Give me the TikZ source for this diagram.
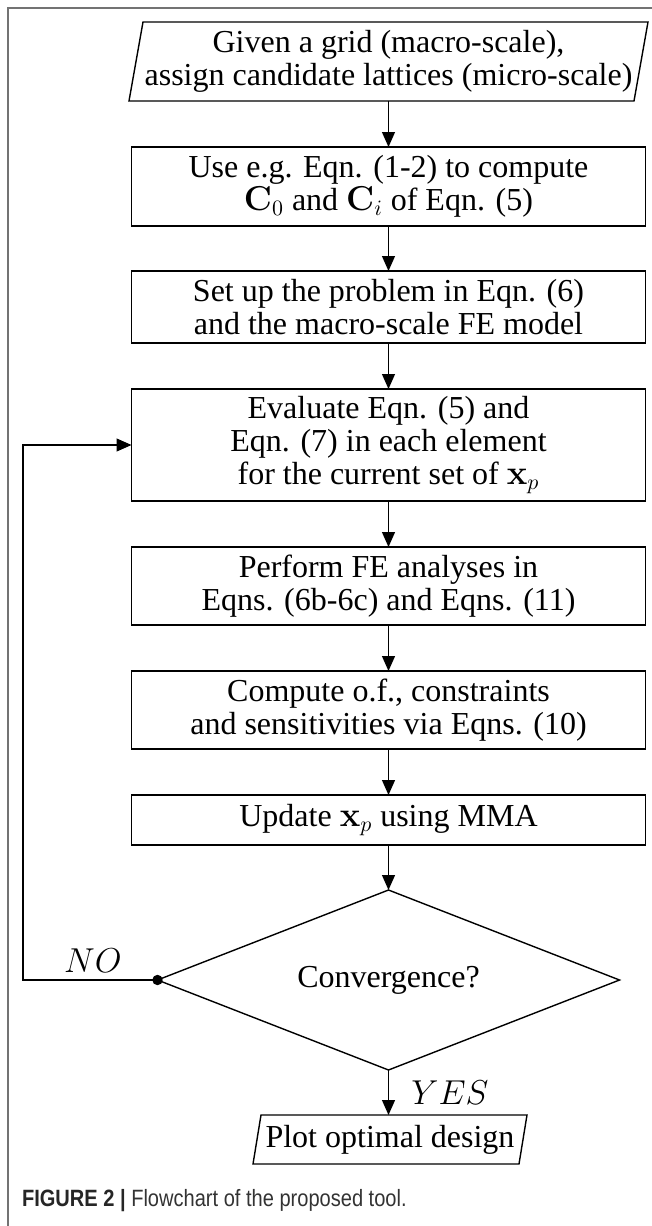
\documentclass[tikz,border=0pt]{standalone}
\usepackage[no-math]{fontspec}
\setmainfont{Liberation Serif}
\newfontfamily\capfont[FakeStretch=0.85]{Liberation Sans}
\usetikzlibrary{arrows.meta,calc}
\definecolor{framegray}{gray}{0.45}
\definecolor{capgray}{gray}{0.2}
\begin{document}
\begin{tikzpicture}[x=0.5pt,y=-0.5pt,
  every node/.style={inner sep=0pt,outer sep=0pt},
  txt/.style={font=\fontsize{16}{16.4}\selectfont,align=center},
  stepbox/.style={txt,draw,line width=0.7pt,minimum width=257pt},
  plainbox/.style={txt,minimum width=#1},
  arr/.style={line width=0.6pt,-{Triangle[length=7.5pt,width=6.5pt]}},
  shapeline/.style={line width=0.7pt}]
\useasboundingbox (0,0) rectangle (652,1226);
% frame
\draw[framegray,line width=0.8pt] (8,1226) -- (8,8) -- (652,8);

% input parallelogram
\node[plainbox=252.5pt,minimum height=39.5pt] (n1) at (388.5,61.5)
  {Given a grid (macro-scale),\\assign candidate lattices (micro-scale)};
\draw[shapeline] ([xshift=-3.5pt]n1.south west) -- ([xshift=3.5pt]n1.north west)
  -- ([xshift=3.5pt]n1.north east) -- ([xshift=-3.5pt]n1.south east) -- cycle;

\node[stepbox,minimum height=39.5pt] (n2) at (388.5,186.5)
  {Use e.g. Eqn. (1-2) to compute\\$\mathbf{C}_0$ and $\mathbf{C}_i$ of Eqn. (5)};
\node[stepbox,minimum height=36pt] (n3) at (388.5,307)
  {Set up the problem in Eqn. (6)\\and the macro-scale FE model};
\node[stepbox,minimum height=56pt] (n4) at (388.5,445)
  {Evaluate Eqn. (5) and\\Eqn. (7) in each element\\for the current set of $\mathbf{x}_p$};
\node[stepbox,minimum height=39pt] (n5) at (388.5,586)
  {Perform FE analyses in\\Eqns. (6b-6c) and Eqns. (11)};
\node[stepbox,minimum height=39pt] (n6) at (388.5,710)
  {Compute o.f., constraints\\and sensitivities via Eqns. (10)};
\node[stepbox,minimum height=25pt] (n7) at (388.5,820)
  {Update $\mathbf{x}_p$ using MMA};

% decision diamond
\node[plainbox=231pt,minimum height=90pt] (d) at (388.5,980) {Convergence?};
\draw[shapeline] (d.north) -- (d.east) -- (d.south) -- (d.west) -- cycle;

% output parallelogram
\node[plainbox=133pt,minimum height=24.5pt] (n8) at (390,1139.5) {Plot optimal design};
\draw[shapeline] ([xshift=-2pt]n8.south west) -- ([xshift=2pt]n8.north west)
  -- ([xshift=2pt]n8.north east) -- ([xshift=-2pt]n8.south east) -- cycle;

% connectors
\draw[arr] (n1.south) -- (n2.north);
\draw[arr] (n2.south) -- (n3.north);
\draw[arr] (n3.south) -- (n4.north);
\draw[arr] (n4.south) -- (n5.north);
\draw[arr] (n5.south) -- (n6.north);
\draw[arr] (n6.south) -- (n7.north);
\draw[arr] (n7.south) -- (d.north);
\draw[arr] (d.south) -- (d.south |- n8.north);
\coordinate (lp) at (23,980);
\draw[arr] (d.west) -- (lp) |- (n4.west);
\fill (d.west) circle (2.6pt);

\node[txt] (no) at (93,961) {$NO$};
\node[txt] (yes) at (450,1093) {$YES$};

% caption
\node[anchor=base west,font=\capfont\fontsize{11.8}{14}\selectfont,text=capgray] (cap) at (22,1206)
  {\textbf{\color{black!85}FIGURE 2 |} Flowchart of the proposed tool.};
\end{tikzpicture}
\end{document}
